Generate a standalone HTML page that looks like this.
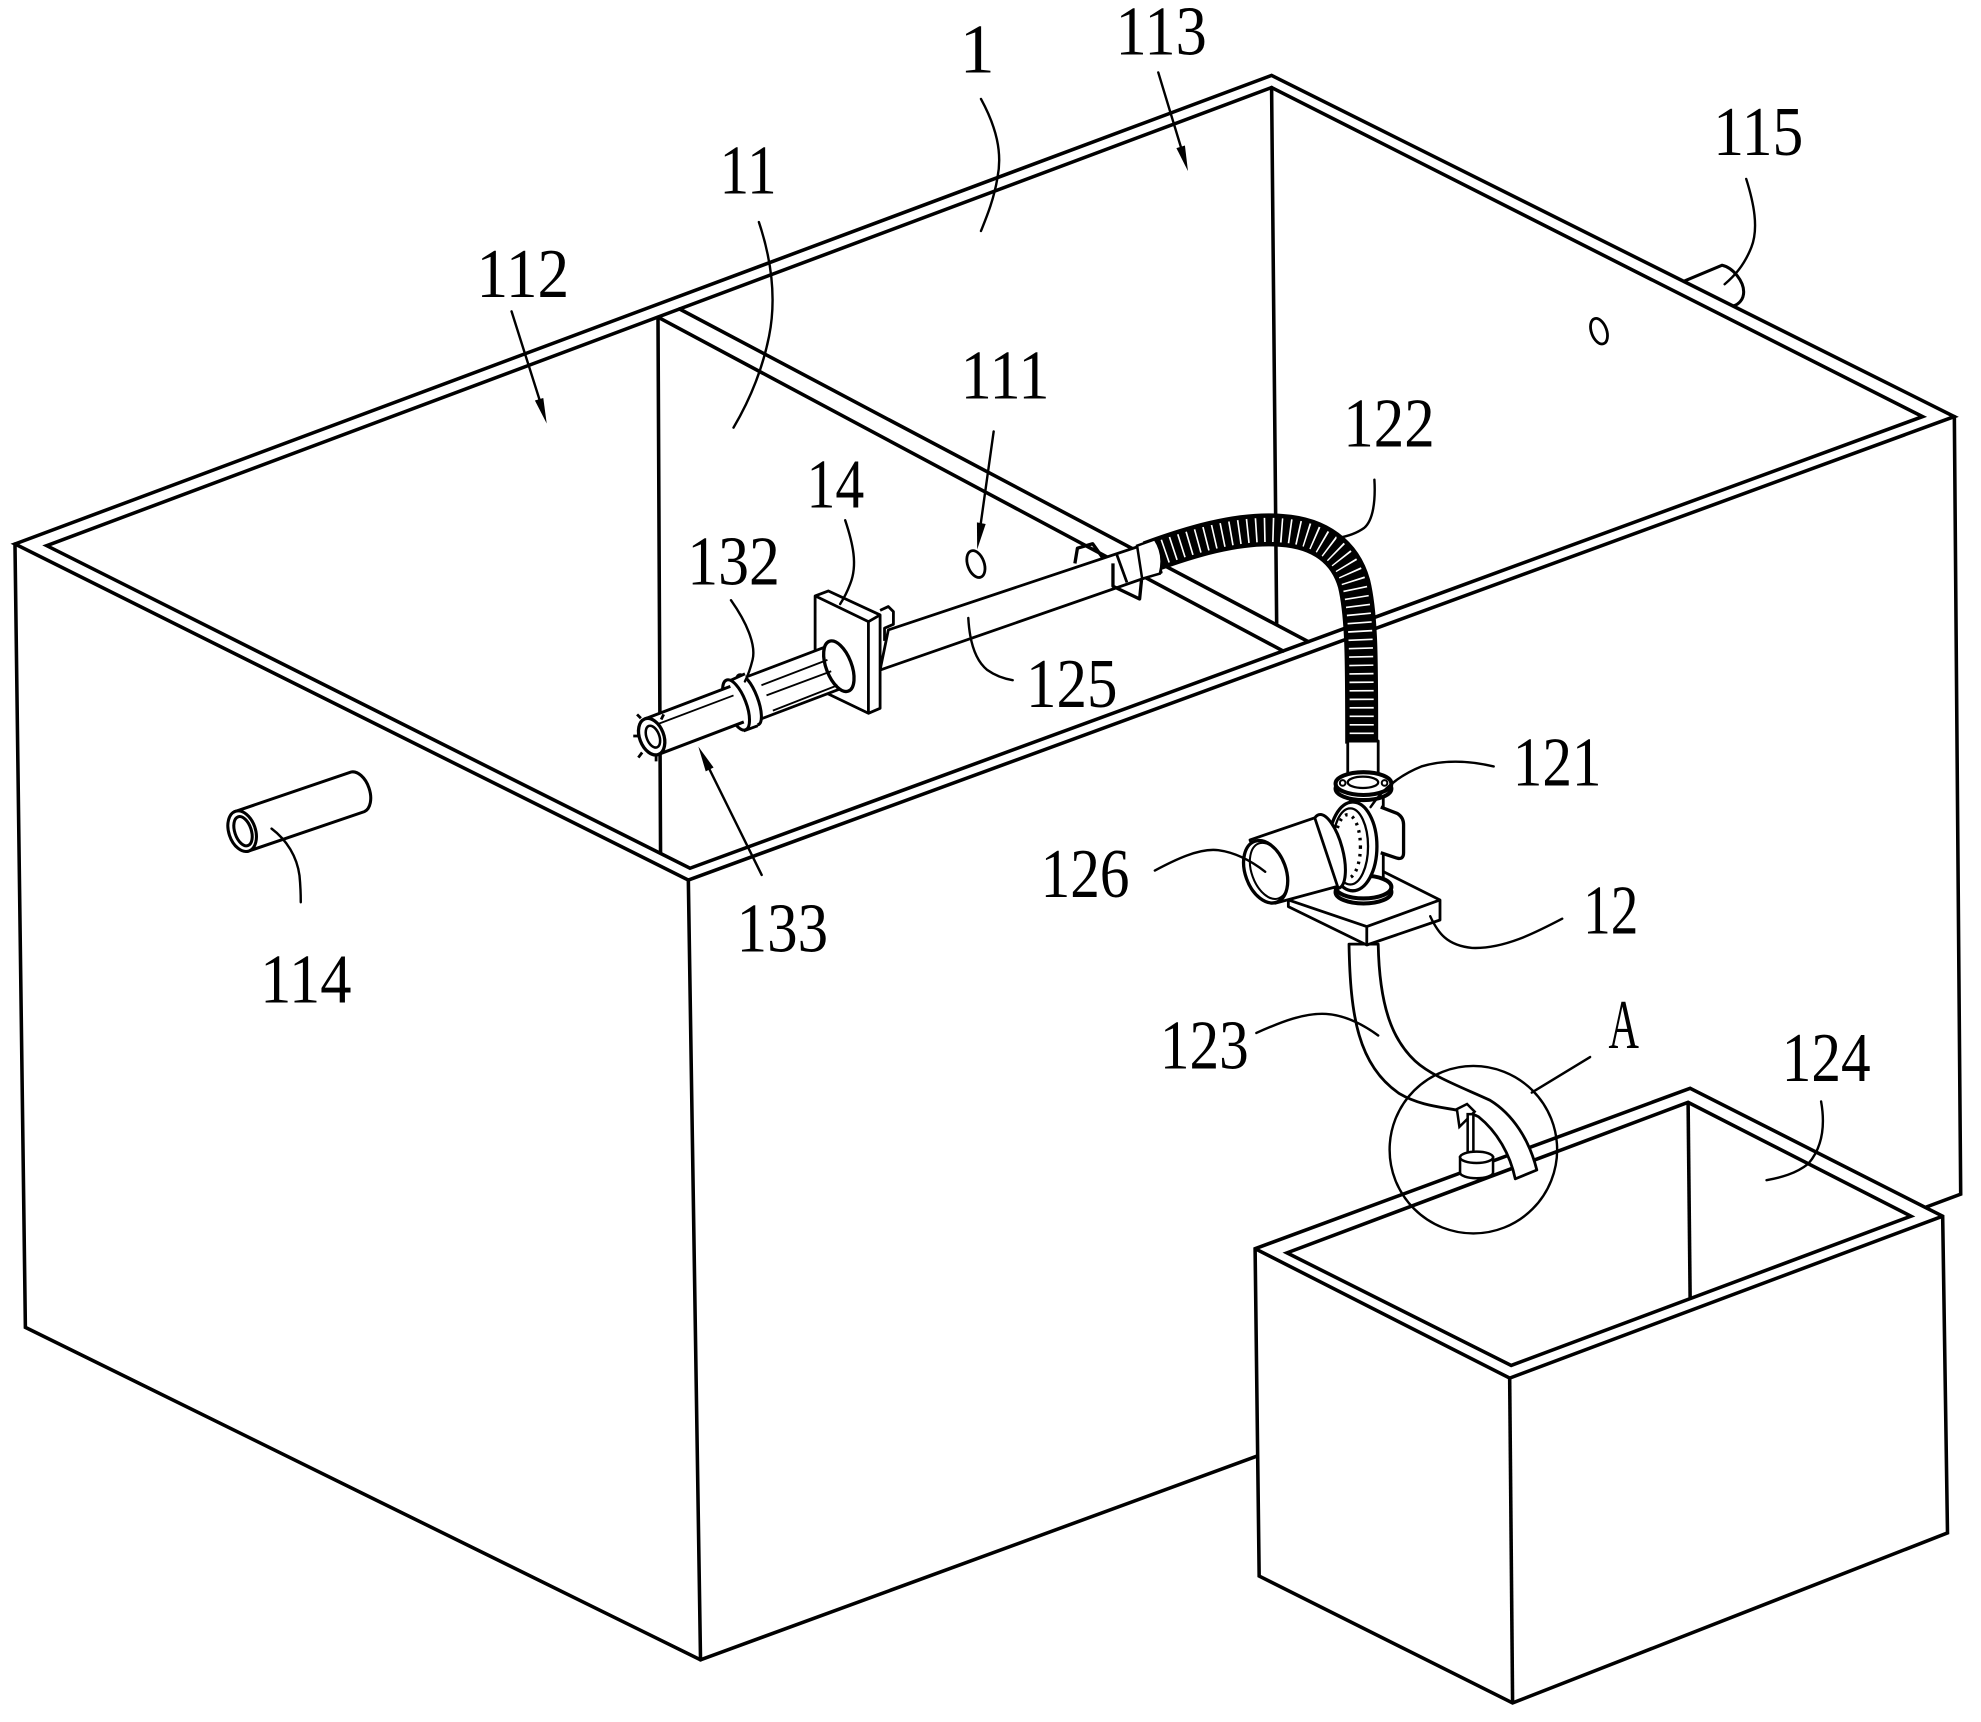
<!DOCTYPE html>
<html><head><meta charset="utf-8"><style>html,body{margin:0;padding:0;background:#fff;}svg{display:block;}</style></head>
<body>
<svg xmlns="http://www.w3.org/2000/svg" width="1981" height="1722" viewBox="0 0 1561 1357" preserveAspectRatio="none">
<rect x="0" y="0" width="1561" height="1357" fill="#fff"/>
<!-- ===== Main tank ===== -->
<g fill="none" stroke="#000" stroke-width="2.8" stroke-linejoin="miter" stroke-linecap="round">
<path d="M11.8,428.7 L1002,59.4 L1540,328.3 L542.4,693.5 Z"/>
<path d="M36.8,430 L1002,69 L1515,328.3 L543.7,684.2 Z"/>
<path d="M11.8,428.7 L20,1046 L552,1308 L1000,1144"/>
<path d="M542.4,693.5 L552,1308"/>
<path d="M1540,328.3 L1545,941 L1505,956"/>
<!-- divider -->
<path d="M518.5,250 L1011,513"/>
<path d="M535.5,243.5 L1031,505.7"/>
<path d="M518.5,251 L520.5,672"/>
<path d="M1002,69 L1006,492"/>
</g>

<!-- holes -->
<g fill="none" stroke="#000" stroke-width="2.2">
<ellipse cx="1260" cy="261" rx="6" ry="10.5" transform="rotate(-20 1260 261)"/>
<ellipse cx="769" cy="444.5" rx="6.5" ry="11" transform="rotate(-20 769 444.5)"/>
</g>

<!-- pipe 115 -->
<path d="M1326,222 L1357,209 C1366,211 1374,222 1374,230 C1374,236 1370,240 1366,241" fill="none" stroke="#000" stroke-width="2.4"/>

<!-- pipe 114 -->
<g stroke="#000" stroke-width="2.4">
<path d="M185.5,639.4 L276.5,608.4 A10 16.5 -18.7 0 1 287.1,639.6 L196.1,670.6 Z" fill="#fff"/>
<ellipse cx="190.8" cy="655" rx="10.5" ry="16.5" transform="rotate(-18.7 190.8 655)" fill="#fff"/>
<ellipse cx="191.5" cy="655" rx="6.5" ry="12" transform="rotate(-18.7 191.5 655)" fill="none"/>
</g>

<!-- ===== Box 124 ===== -->
<g fill="none" stroke="#000" stroke-width="2.8" stroke-linejoin="miter">
<path d="M989,984 L1331.8,857.6 L1530.8,958.4 L1534.6,1208 L1191.9,1342 L992.2,1242 Z" fill="#fff"/>
<path d="M989,984 L1189.6,1086 L1530.8,958.4"/>
<path d="M1189.6,1086 L1191.9,1342"/>
<path d="M1014.1,987.3 L1330.2,868.7 L1505.8,958.4 L1190.8,1076 Z"/>
<path d="M1330.2,868.7 L1331.8,1023.5"/>
</g>

<!-- ===== Rod 125 & clips ===== -->
<g stroke="#000" stroke-width="2.2" stroke-linejoin="round">
<path d="M847,444 L849,432 L861,428.5 L870,441" fill="none" stroke-width="2.6"/>
<path d="M700,496.4 L908,427 L915,451 L693.5,528 Z" fill="#fff"/>
<path d="M880,437 Q884,448 888,459" fill="none"/>
<path d="M877,444 L877,462 L898,472 L899.5,457" fill="none" stroke-width="2.6"/>
</g>

<!-- ===== Hose 122 ===== -->
<path d="M905,439 C935,428 975,415 1010,418 C1040,420 1060,435 1067,460 C1073,485 1073,520 1073,586" fill="none" stroke="#000" stroke-width="26" stroke-linecap="butt"/>
<path d="M905,439 C935,428 975,415 1010,418 C1040,420 1060,435 1067,460 C1073,485 1073,520 1073,586" fill="none" stroke="#fff" stroke-width="19" stroke-dasharray="1.3 5.4" stroke-linecap="butt"/>
<path d="M896,430 L910,425 Q918,437 914,452 L900,456 Z" fill="#fff" stroke="#000" stroke-width="2"/>

<!-- ===== Plate 14 and cylinder 13x ===== -->
<g stroke="#000" stroke-width="2.2" stroke-linejoin="round">
<path d="M642.3,469.6 L652.8,465.7 L693.5,484.6 L693.5,558.2 L684.3,562.1 L642.3,541.9 Z" fill="#fff"/>
<path d="M642.3,469.6 L684.3,489.9 L693.5,484.6 M684.3,489.9 L684.3,562.1" fill="none"/>
<path d="M693.5,481 L700,478 L704,482 L704,492 L697,495 L697,505" fill="none"/>
<!-- rear tube -->
<path d="M587.7,533.6 L655,508 L667.4,540.8 L600.1,566.4 Z" fill="#fff"/>
<ellipse cx="661" cy="525" rx="10" ry="21" transform="rotate(-21 661 525)" fill="#fff" stroke-width="2.6"/>
<path d="M600,540 L652,520 M604,548 L655,529 M609,560 L660,540" fill="none" stroke-width="1.5"/>
<!-- collar 132 -->
<ellipse cx="590" cy="551.5" rx="7" ry="21" transform="rotate(-21 590 551.5)" fill="#fff" stroke-width="2.4"/>
<path d="M576,536 L587,531 L597,572 L586,576 Z" fill="#fff" stroke="none"/>
<path d="M576,536 L587,531 M586,576 L597,572" fill="none"/>
<ellipse cx="580" cy="555.5" rx="8" ry="21" transform="rotate(-21 580 555.5)" fill="#fff" stroke-width="2.4"/>
<!-- front tube -->
<path d="M508.2,566.5 L575.5,540.9 L586.1,568.9 L518.8,594.5 Z" fill="#fff" stroke="none"/>
<path d="M508.2,566.5 L575.5,540.9 M518.8,594.5 L586.1,568.9" fill="none" stroke-width="2.4"/>
<path d="M512,573 L578,548" fill="none" stroke-width="1.4"/>
<ellipse cx="513.5" cy="580.5" rx="9.5" ry="15" transform="rotate(-21 513.5 580.5)" fill="#fff" stroke-width="2.6"/>
<ellipse cx="514.5" cy="580.5" rx="5" ry="9" transform="rotate(-21 514.5 580.5)" fill="none" stroke-width="2"/>
<path d="M505,566 L502,563 M503,580 L499,580 M506,593 L503,597 M517,596 L517,600 M521,567 L523,563" fill="none" stroke-width="2.2"/>
</g>

<!-- ===== Pipe 123 ===== -->
<path d="M1063,744 C1064,800 1070,840 1103,862 C1125,875 1150,872 1165,880 C1180,892 1190,910 1194,929 L1211,922 C1205,898 1192,878 1174,867 C1150,856 1128,848 1115,836 C1098,820 1087,795 1086,744 Z" fill="#fff" stroke="#000" stroke-width="2.2" stroke-linejoin="round"/>
<!-- nozzle -->
<g stroke="#000" stroke-width="2" fill="#fff">
<path d="M1150,888 L1148,874 L1156,870 L1162,876 Z"/>
<rect x="1156.5" y="878" width="4.5" height="32"/>
<path d="M1150.5,912 L1150.5,924 A13 4.5 0 0 0 1176.5,924 L1176.5,912 Z"/>
<ellipse cx="1163.5" cy="912" rx="13" ry="4.5"/>
</g>

<!-- ===== Pump ===== -->
<g stroke="#000" stroke-width="2.2" stroke-linejoin="round">
<!-- base plate 12 -->
<path d="M1015.2,709.2 L1087.5,685.6 L1134.7,709.2 L1134.7,725 L1077,744.7 L1015.2,714.5 Z" fill="#fff"/>
<path d="M1015.2,709.2 L1077,730.2 L1134.7,709.2 M1077,730.2 L1077,744.7" fill="none"/>
<!-- upper pipe -->
<rect x="1062" y="584" width="24" height="32" fill="#fff"/>
<!-- tee body -->
<path d="M1064,622 L1064,696 L1090,696 L1090,622 Z" fill="#fff"/>
<path d="M1088,636 L1101,641 Q1106,644 1106,650 L1106,672 Q1106,678 1100,676 L1088,672" fill="#fff" stroke-width="2.6"/>
<!-- lower flange -->
<ellipse cx="1074.4" cy="703" rx="22" ry="9" fill="#fff" stroke-width="3.2"/>
<ellipse cx="1074.4" cy="699" rx="22" ry="9" fill="#fff" stroke-width="3.2"/>
<!-- upper flange -->
<ellipse cx="1074.4" cy="621.5" rx="22" ry="9" fill="#fff" stroke-width="3.2"/>
<ellipse cx="1074.4" cy="617.5" rx="22" ry="9" fill="#fff" stroke-width="3.2"/>
<ellipse cx="1074" cy="616.5" rx="12" ry="4.5" fill="none" stroke-width="1.8"/>
<circle cx="1058" cy="617" r="2.2" fill="none" stroke-width="1.6"/>
<circle cx="1091" cy="617" r="2.2" fill="none" stroke-width="1.6"/>
<!-- volute -->
<ellipse cx="1066" cy="667" rx="19" ry="35" fill="#fff" stroke-width="2.6"/>
<ellipse cx="1064" cy="667" rx="14" ry="30" fill="none" stroke-width="1.8"/>
<ellipse cx="1062" cy="667" rx="10" ry="25" fill="none" stroke-width="2.6" stroke-dasharray="2 4"/>
<!-- step cylinder -->
<ellipse cx="1047" cy="671" rx="11" ry="30" transform="rotate(-15 1047 671)" fill="#fff" stroke-width="2.4"/>
<!-- inlet cylinder 126 -->
<path d="M985,661.9 L1036,644.5 L1054,698.5 L1004.7,711.8 Z" fill="#fff"/>
<ellipse cx="997.3" cy="687" rx="16" ry="25.5" transform="rotate(-20 997.3 687)" fill="#fff" stroke-width="2.6"/>
<ellipse cx="999.8" cy="686.3" rx="13.5" ry="23" transform="rotate(-20 999.8 686.3)" fill="none" stroke-width="1.6"/>
</g>

<!-- ===== Leaders ===== -->
<g fill="none" stroke="#000" stroke-width="1.9" stroke-linecap="round">
<path d="M773,78 C785,100 790,120 786,140 C783,158 777,172 773,182"/>
<path d="M598,175 C608,205 612,235 606,265 C600,295 588,320 578,337"/>
<path d="M666,410 C672,428 676,445 670,460 C667,468 664,473 662,476"/>
<path d="M576,473 C588,490 596,508 593,520 C591,528 589,533 587,537"/>
<path d="M763,487 C764,505 768,520 778,528 C785,533 792,535 798,536"/>
<path d="M910,686 C925,678 945,668 960,670 C975,672 988,680 997,687"/>
<path d="M1083,378 C1084,395 1082,410 1075,416 C1068,421 1060,423 1054,424"/>
<path d="M1177,604 C1160,600 1140,598 1120,604 C1100,612 1088,624 1080,636"/>
<path d="M1127,722 C1133,735 1140,745 1160,747 C1185,748 1210,735 1231,724"/>
<path d="M990,814 C1010,805 1028,798 1045,799 C1060,800 1075,808 1086,816"/>
<path d="M1207,861 L1253,833"/>
<path d="M1435,868 C1438,885 1437,903 1425,917 C1415,925 1403,928 1392,930"/>
<path d="M214,653 C226,662 234,675 236,690 C237,700 237,706 237,711"/>
<path d="M1376,141 C1382,160 1386,180 1380,195 C1374,210 1366,218 1359,224"/>
<!-- arrow lines -->
<path d="M912.7,57.1 L933,124"/>
<path d="M403.1,245.4 L428,324"/>
<path d="M783,340 L771.5,422"/>
<path d="M600.2,689.5 L555,598"/>
</g>
<g fill="#000" stroke="none">
<path d="M936.1,134.9 L933.7,114.7 L927,116.7 Z"/>
<path d="M430.8,333.7 L428.1,313.6 L421.5,315.6 Z"/>
<path d="M770,433 L776.7,412.9 L769.8,411.7 Z"/>
<path d="M550.3,588.4 L562.3,604.8 L556.1,607.9 Z"/>
</g>

<!-- circle A -->
<circle cx="1161" cy="906" r="66" fill="none" stroke="#000" stroke-width="1.9"/>

<!-- ===== Labels ===== -->
<g font-family="'Liberation Serif', serif" font-size="55" fill="#000">
<text x="770" y="57" text-anchor="middle">1</text>
<text x="879" y="43" textLength="72" lengthAdjust="spacingAndGlyphs">113</text>
<text x="1350" y="122" textLength="71" lengthAdjust="spacingAndGlyphs">115</text>
<text x="567" y="152.5" textLength="45" lengthAdjust="spacingAndGlyphs">11</text>
<text x="375.5" y="234" textLength="73" lengthAdjust="spacingAndGlyphs">112</text>
<text x="757" y="314" textLength="70" lengthAdjust="spacingAndGlyphs">111</text>
<text x="1058.5" y="352" textLength="72" lengthAdjust="spacingAndGlyphs">122</text>
<text x="635.5" y="400" textLength="45.5" lengthAdjust="spacingAndGlyphs">14</text>
<text x="541.5" y="460.5" textLength="73" lengthAdjust="spacingAndGlyphs">132</text>
<text x="808.5" y="557" textLength="72" lengthAdjust="spacingAndGlyphs">125</text>
<text x="1192" y="619" textLength="70" lengthAdjust="spacingAndGlyphs">121</text>
<text x="820" y="707" textLength="70" lengthAdjust="spacingAndGlyphs">126</text>
<text x="1247.5" y="735.5" textLength="43.5" lengthAdjust="spacingAndGlyphs">12</text>
<text x="580.5" y="750" textLength="72" lengthAdjust="spacingAndGlyphs">133</text>
<text x="205" y="790" textLength="72" lengthAdjust="spacingAndGlyphs">114</text>
<text x="914" y="842" textLength="70" lengthAdjust="spacingAndGlyphs">123</text>
<text x="1267.5" y="826" textLength="24" lengthAdjust="spacingAndGlyphs">A</text>
<text x="1404" y="852" textLength="70" lengthAdjust="spacingAndGlyphs">124</text>
</g>
</svg>
</body></html>
